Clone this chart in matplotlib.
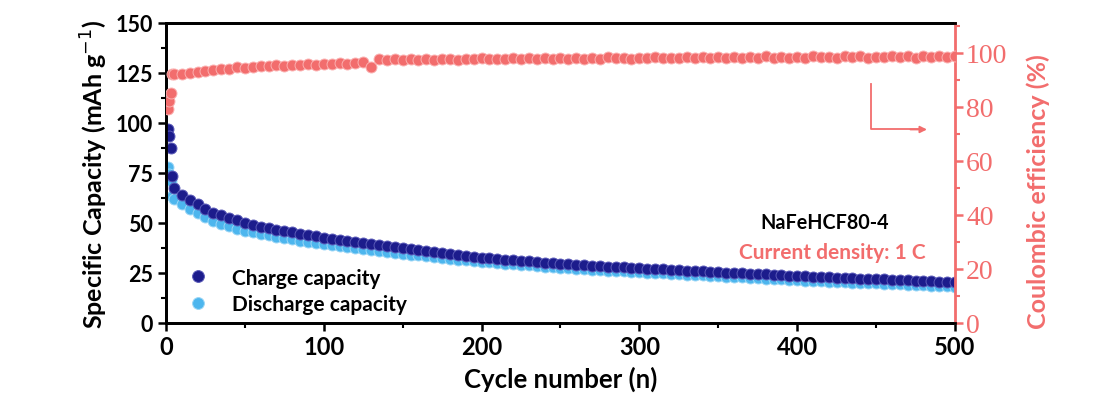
import numpy as np
import matplotlib
matplotlib.use("Agg")
import matplotlib.pyplot as plt
from matplotlib.lines import Line2D

# cycles 1-4 individually, then every 5th cycle
cycles = [1, 2, 3, 4] + list(range(5, 501, 5))

charge = [97.0, 93.5, 87.5, 73.5,
          67.5, 64.0, 61.5, 59.3, 57.0, 55.2, 53.8, 52.5, 51.3, 50.2,
          49.2, 48.2, 47.4, 46.7, 46.0, 45.3, 44.6, 43.9, 43.3, 42.7,
          42.1, 41.5, 40.9, 40.3, 39.8, 39.3, 38.8, 38.3, 37.8, 37.3,
          36.8, 36.3, 35.8, 35.3, 34.8, 34.3, 33.8, 33.4, 33.0, 32.6,
          32.3, 32.0, 31.7, 31.4, 31.1, 30.8, 30.5, 30.2, 29.9, 29.7,
          29.4, 29.2, 28.9, 28.7, 28.5, 28.2, 28.0, 27.8, 27.6, 27.4,
          27.2, 27.0, 26.8, 26.6, 26.4, 26.2, 26.0, 25.8, 25.6, 25.4,
          25.2, 25.0, 24.8, 24.6, 24.4, 24.3, 24.1, 23.9, 23.7, 23.6,
          23.4, 23.2, 23.1, 22.9, 22.7, 22.6, 22.4, 22.2, 22.1, 21.9,
          21.8, 21.6, 21.5, 21.3, 21.2, 21.0, 20.9, 20.7, 20.6, 20.4]

discharge = [78.0, 74.5, 71.0, 63.5,
             62.0, 59.5, 57.2, 55.0, 52.8, 51.0, 49.6, 48.3, 47.2, 46.2,
             45.3, 44.5, 43.8, 43.1, 42.4, 41.8, 41.2, 40.6, 40.0, 39.4,
             38.8, 38.3, 37.8, 37.3, 36.8, 36.3, 35.9, 35.5, 35.0, 34.6,
             34.2, 33.8, 33.3, 32.9, 32.5, 32.1, 31.7, 31.3, 30.9, 30.6,
             30.3, 30.0, 29.7, 29.4, 29.1, 28.8, 28.5, 28.2, 27.9, 27.6,
             27.3, 27.1, 26.8, 26.6, 26.4, 26.2, 26.0, 25.8, 25.6, 25.4,
             25.2, 25.0, 24.8, 24.6, 24.4, 24.2, 24.0, 23.8, 23.6, 23.4,
             23.2, 23.0, 22.8, 22.6, 22.4, 22.2, 22.0, 21.8, 21.6, 21.4,
             21.2, 21.0, 20.8, 20.7, 20.5, 20.4, 20.2, 20.1, 19.9, 19.8,
             19.6, 19.5, 19.3, 19.2, 19.0, 18.9, 18.7, 18.6, 18.4, 18.2]

efficiency = [79.0, 82.0, 85.0, 92.0,
              92.0, 92.3, 92.5, 92.8, 93.2, 93.5, 93.9, 94.1, 94.6, 94.4,
              94.8, 95.0, 94.9, 95.3, 95.2, 95.5, 95.4, 95.8, 95.6, 96.0,
              95.9, 96.2, 96.0, 96.3, 96.4, 94.8, 97.6, 97.3, 97.5, 97.2,
              97.6, 97.4, 97.7, 97.3, 97.6, 97.8, 97.4, 97.7, 97.5, 97.9,
              97.6, 97.8, 97.5, 98.0, 97.7, 97.9, 97.6, 98.1, 97.8, 97.9,
              97.6, 98.2, 97.8, 98.0, 97.7, 98.3, 97.9, 98.1, 97.8, 98.2,
              97.9, 98.4, 98.0, 98.2, 97.9, 98.3, 98.0, 98.4, 98.1, 98.3,
              98.0, 98.5, 98.1, 98.3, 98.0, 98.6, 98.2, 98.4, 98.1, 98.5,
              98.2, 98.7, 98.3, 98.5, 98.1, 98.6, 98.3, 98.8, 98.2, 98.5,
              98.3, 98.7, 98.4, 98.6, 98.2, 98.8, 98.4, 98.6, 98.3, 98.9]

navy = "#1c1c8c"
navy_edge = "#5a5ab8"
sky = "#4db6ee"
sky_edge = "#9ad6f6"
red = "#f26d6d"
red_edge = "#fbb0b0"

sans = "Lato"
serif = "Liberation Serif"

fig = plt.figure(figsize=(11.03, 4.10), dpi=100)
ax = fig.add_axes([0.1505, 0.2098, 0.7153, 0.7317])
ax2 = ax.twinx()

ax.scatter(cycles, charge, s=62, c=navy, edgecolors=navy_edge, linewidths=0.7, zorder=3)
ax.scatter(cycles, discharge, s=62, c=sky, edgecolors=sky_edge, linewidths=0.7, zorder=2)
ax2.scatter(cycles, efficiency, s=62, c=red, edgecolors=red_edge, linewidths=0.7, zorder=3)

ax.set_xlim(0, 500)
ax.set_ylim(0, 150)
ax2.set_ylim(0, 111)

ax.set_xticks(range(0, 501, 100))
ax.set_xticks(range(50, 500, 100), minor=True)
ax.set_yticks(range(0, 151, 25))
ax.set_yticks(np.arange(12.5, 150, 25), minor=True)
ax2.set_yticks(range(0, 101, 20))
ax2.set_yticks(range(10, 111, 20), minor=True)

for sp in ["top", "left", "bottom"]:
    ax.spines[sp].set_linewidth(2.0)
    ax2.spines[sp].set_linewidth(2.0)
ax2.spines["right"].set_color(red)
ax2.spines["right"].set_linewidth(2.0)
ax.spines["right"].set_visible(False)

ax.tick_params(which="major", direction="out", length=6, width=1.8)
ax.tick_params(which="minor", direction="out", length=3.5, width=1.5)
ax.tick_params(axis="y", labelsize=15.5)
ax.tick_params(axis="x", labelsize=17, pad=3)
ax2.tick_params(which="major", direction="out", length=6, width=1.8, colors=red, labelsize=20, pad=2)
ax2.tick_params(which="minor", direction="out", length=3.5, width=1.5, colors=red)

for lab in ax.get_xticklabels() + ax.get_yticklabels():
    lab.set_fontfamily(sans)
    lab.set_fontweight("bold")
for lab in ax2.get_yticklabels():
    lab.set_fontfamily(serif)

ax.set_xlabel("Cycle number (n)", fontfamily=sans, fontweight="bold", fontsize=18.5, labelpad=5)
ax.set_ylabel("Specific Capacity (mAh g$^{-1}$)", fontfamily=sans, fontweight="bold", fontsize=18, labelpad=4)
ax2.set_ylabel("Coulombic efficiency (%)", fontfamily=sans, fontweight="bold", fontsize=18, color=red)
ax2.yaxis.set_label_coords(1.09, 0.44)

ax.text(0.835, 0.337, "NaFeHCF80-4", transform=ax.transAxes, ha="center", va="center",
        fontfamily=sans, fontweight="bold", fontsize=14.2, color="black")
ax.text(0.845, 0.237, "Current density: 1 C", transform=ax.transAxes, ha="center", va="center",
        fontfamily=sans, fontweight="bold", fontsize=15, color=red)

handles = [Line2D([], [], ls="none", marker="o", ms=8.5, mfc=navy, mec=navy_edge, mew=0.7),
           Line2D([], [], ls="none", marker="o", ms=8.5, mfc=sky, mec=sky_edge, mew=0.7)]
ax.legend(handles, ["Charge capacity", "Discharge capacity"], loc="lower left",
          bbox_to_anchor=(0.014, 0.03), borderaxespad=0, borderpad=0, handlelength=2.0,
          frameon=False, handletextpad=0.64, labelspacing=0.3,
          prop={"family": sans, "weight": "bold", "size": 15})

# L-shaped arrow pointing to the right axis
ax.plot([0.8935, 0.8935, 0.955], [0.797, 0.645, 0.645], transform=ax.transAxes,
        color=red, lw=1.3, clip_on=False)
ax.annotate("", xy=(0.968, 0.645), xytext=(0.94, 0.645), xycoords="axes fraction",
            arrowprops=dict(arrowstyle="-|>", color=red, lw=1.3, mutation_scale=10))

fig.savefig("out.png", dpi=100)
